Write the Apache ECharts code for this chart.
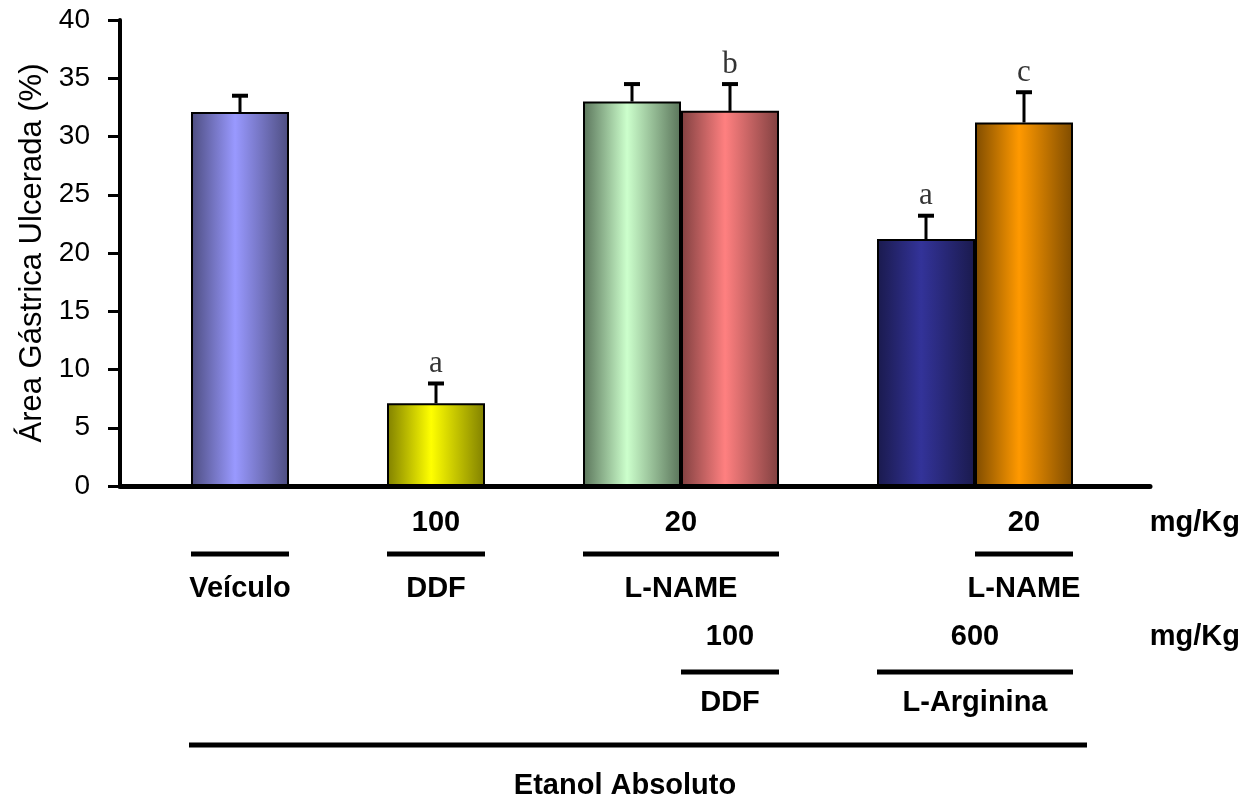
<!DOCTYPE html>
<html><head><meta charset="utf-8">
<script src="https://cdn.jsdelivr.net/npm/echarts@6/dist/echarts.min.js"></script>
<style>html,body{margin:0;padding:0;background:#fff}#c{width:1256px;height:802px}</style>
</head><body><div id="c"></div>
<script>
// ---- data ----
const slots = ['Veículo', 'gap1', 'DDF', 'gap2', 'L-NAME', 'L-NAME + DDF', 'gap3', 'L-Arginina', 'L-Arginina + L-NAME'];
const barSlots = [0, 2, 4, 5, 7, 8];
const barValues = [32.1, 7.1, 33.0, 32.2, 21.2, 31.2];
const barErrors = [1.4, 1.7, 1.5, 2.3, 2.0, 2.6];
const sigLetters = ['', 'a', '', 'b', 'a', 'c'];
const barCenterColors = ['#9999ff', '#ffff00', '#ccffcc', '#ff8080', '#333399', '#ff9900'];
const barEdgeColors = ['#4d4d80', '#808000', '#5a745a', '#804040', '#1a1a4d', '#7f4c00'];
const yMin = 0, yMax = 40, yStep = 5;
const yTitle = 'Área Gástrica Ulcerada (%)';
// annotation rows below the axis (text, slot span)
const row1Doses = ['', '100', '20', '20'];
const row1Labels = ['Veículo', 'DDF', 'L-NAME', 'L-NAME'];
const row1Spans = [[0, 0], [2, 2], [4, 5], [8, 8]];
const row2Doses = ['100', '600'];
const row2Labels = ['DDF', 'L-Arginina'];
const row2Spans = [[5, 5], [7, 8]];
const baseLabel = 'Etanol Absoluto';
const baseSpan = [0, 8];
const unitLabel = 'mg/Kg';

const FONT = '"Liberation Sans", Arial, sans-serif';
const chart = echarts.init(document.getElementById('c'), null, {renderer: 'canvas'});

const barData = barSlots.map((s, i) => ({
  value: [s, barValues[i]],
  itemStyle: {
    color: {type: 'linear', x: 0, y: 0, x2: 1, y2: 0, colorStops: [
      {offset: 0, color: barEdgeColors[i]},
      {offset: 0.45, color: barCenterColors[i]},
      {offset: 1, color: barEdgeColors[i]}
    ]},
    borderColor: '#000', borderWidth: 2
  }
}));
const errData = barSlots.map((s, i) => [s, barValues[i], barValues[i] + barErrors[i]]);
const letterData = barSlots.map((s, i) => ({value: [s, barValues[i] + barErrors[i]], letter: sigLetters[i]}));

const gridTop = 20, gridBottom = 316;
chart.setOption({
  animation: false,
  backgroundColor: '#fff',
  grid: [
    {left: 191, right: 183, top: gridTop, bottom: gridBottom},
    {left: 120, right: 106, top: gridTop, bottom: gridBottom}
  ],
  xAxis: [
    {type: 'category', gridIndex: 0, data: slots, boundaryGap: true, show: false},
    {type: 'value', gridIndex: 1, min: 0, max: 1, axisLine: {show: true, onZero: false, lineStyle: {color: '#000', width: 5}},
     axisTick: {show: false}, axisLabel: {show: false}, splitLine: {show: false}}
  ],
  yAxis: [
    {type: 'value', gridIndex: 0, min: yMin, max: yMax, interval: yStep, show: false, splitLine: {show: false}},
    {type: 'value', gridIndex: 1, min: yMin, max: yMax, interval: yStep,
     name: yTitle, nameLocation: 'middle', nameRotate: 90, nameGap: 70,
     nameTextStyle: {fontSize: 31, color: '#000', fontFamily: FONT},
     axisLine: {show: true, lineStyle: {color: '#000', width: 4}},
     axisTick: {show: true, inside: false, length: 12, lineStyle: {color: '#000', width: 3}},
     axisLabel: {fontSize: 28, color: '#000', fontFamily: FONT, margin: 30},
     splitLine: {show: false}}
  ],
  series: [
    {type: 'bar', xAxisIndex: 0, yAxisIndex: 0, data: barData, barWidth: 98, barGap: '-100%'},
    {type: 'custom', xAxisIndex: 0, yAxisIndex: 0, data: errData, z: 5,
     renderItem: function (params, api) {
       const b = api.coord([api.value(0), api.value(1)]);
       const t = api.coord([api.value(0), api.value(2)]);
       const half = 8;
       return {type: 'group', children: [
         {type: 'line', shape: {x1: b[0], y1: b[1], x2: t[0], y2: t[1]}, style: {stroke: '#000', lineWidth: 3}},
         {type: 'line', shape: {x1: t[0] - half, y1: t[1], x2: t[0] + half, y2: t[1]}, style: {stroke: '#000', lineWidth: 4}}
       ]};
     }},
    {type: 'scatter', xAxisIndex: 0, yAxisIndex: 0, symbolSize: 0, data: letterData, z: 6,
     label: {show: true, position: 'top', distance: 4, color: '#000', fontSize: 31,
             fontFamily: '"Liberation Serif", "Times New Roman", serif',
             formatter: p => p.data.letter}}
  ]
});

// ---- annotation block below the chart, positioned from the category axis ----
function cx(i) { return chart.convertToPixel({xAxisIndex: 0}, i); }
const half = 49;
const g = [];
const BOLD = 'bold 29px ' + FONT;
function txt(t, x, y, align) {
  g.push({type: 'text', silent: true, style: {text: t, x: x, y: y, font: BOLD, fill: '#000',
    textAlign: align || 'center', textVerticalAlign: 'middle', align: align || 'center', verticalAlign: 'middle'}});
}
function ln(x1, x2, y) {
  g.push({type: 'line', silent: true, shape: {x1: x1, y1: y, x2: x2, y2: y}, style: {stroke: '#000', lineWidth: 5}});
}
row1Spans.forEach((sp, i) => {
  const a = cx(sp[0]) - half, b = cx(sp[1]) + half, m = (a + b) / 2;
  if (row1Doses[i]) txt(row1Doses[i], m, 523);
  ln(a, b, 554);
  txt(row1Labels[i], m, 589);
});
txt(unitLabel, 1240, 523, 'right');
row2Spans.forEach((sp, i) => {
  const a = cx(sp[0]) - half, b = cx(sp[1]) + half, m = (a + b) / 2;
  txt(row2Doses[i], m, 637);
  ln(a, b, 672);
  txt(row2Labels[i], m, 703);
});
txt(unitLabel, 1240, 637, 'right');
{
  const a = cx(baseSpan[0]) - half, b = cx(baseSpan[1]) + half + 14;
  ln(a - 2, b, 745);
  txt(baseLabel, 625, 786);
}
chart.setOption({graphic: g});
</script>
</body></html>
